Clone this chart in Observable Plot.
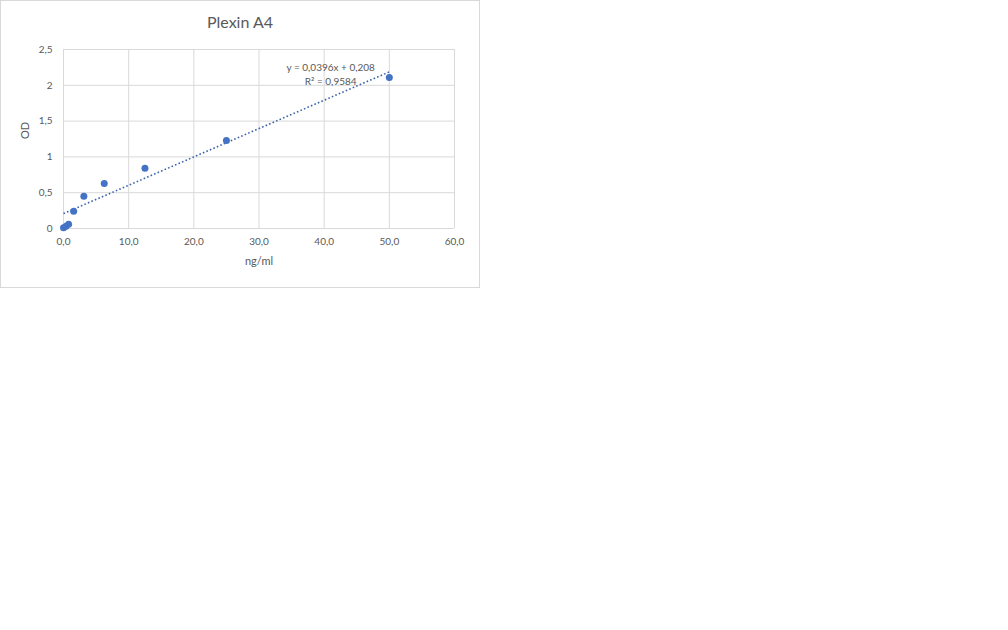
<!DOCTYPE html>
<html>
<head>
<meta charset="utf-8">
<script src="https://cdn.jsdelivr.net/npm/d3@7"></script>
<script src="https://cdn.jsdelivr.net/npm/@observablehq/plot@0.6"></script>
<style>
  html, body { margin: 0; padding: 0; background: #fff; }
  #box { position: absolute; left: 0; top: 0; width: 480px; height: 288px; box-sizing: border-box; border: 1px solid #d9d9d9; background: #fff; }
  #title { position: absolute; left: 0; top: 11px; width: 480px; text-align: center; font-family: Lato, "Open Sans", sans-serif; font-size: 16px; color: #595959; line-height: 22px; }
  #chart { position: absolute; left: 0; top: 0; }
</style>
</head>
<body>
<div id="box"></div>
<div id="title">Plexin A4</div>
<div id="chart"></div>
<script>
const concentration = [0, 0.39, 0.78, 1.5625, 3.125, 6.25, 12.5, 25, 50];
const od = [0.01, 0.03, 0.06, 0.24, 0.45, 0.63, 0.84, 1.23, 2.11];
const xTicks = [0, 10, 20, 30, 40, 50, 60];
const yTicks = [0, 0.5, 1, 1.5, 2, 2.5];
const slope = 0.0396;
const intercept = 0.208;
const trendRange = [0, 50];
const equationText = "y = 0,0396x + 0,208";
const r2Text = "R² = 0,9584";
const xLabel = "ng/ml";
const yLabel = "OD";

const points = concentration.map((c, i) => ({x: c, y: od[i]}));
const trend = trendRange.map(x => ({x, y: intercept + slope * x}));

const fmtX = d => d.toFixed(1).replace(".", ",");
const fmtY = d => String(d).replace(".", ",");
const blue = "#4472C4";
const gray = "#595959";
const gridCol = "#d9d9d9";

const chart = Plot.plot({
  width: 480,
  height: 288,
  marginLeft: 63,
  marginRight: 26,
  marginTop: 49,
  marginBottom: 60,
  style: {fontFamily: "Lato, 'Open Sans', sans-serif", fontSize: "10px", color: gray, background: "transparent", overflow: "visible"},
  x: {domain: [0, 60]},
  y: {domain: [0, 2.5]},
  marks: [
    Plot.gridX(xTicks, {stroke: gridCol, strokeOpacity: 1}),
    Plot.gridY(yTicks, {stroke: gridCol, strokeOpacity: 1}),
    Plot.axisX({ticks: xTicks, tickSize: 0, tickPadding: 9, tickFormat: fmtX, label: null, fill: gray}),
    Plot.axisY({ticks: yTicks, tickSize: 0, tickPadding: 11, tickFormat: fmtY, label: null, fill: gray}),
    Plot.line(trend, {x: "x", y: "y", stroke: "#3b64ad", strokeWidth: 1.6, strokeDasharray: "1.6 2.2", strokeLinecap: "butt"}),
    Plot.dot(points, {x: "x", y: "y", r: 3.5, fill: blue}),
    Plot.text([equationText + "\n" + r2Text], {x: 41, y: 2.165, textAnchor: "middle", fill: gray, fontSize: 10, lineHeight: 1.45}),
    Plot.text([xLabel], {frameAnchor: "bottom", dy: 36, fill: gray, fontSize: 11}),
    Plot.text([yLabel], {frameAnchor: "left", dx: -38, rotate: -90, fill: gray, fontSize: 11})
  ]
});
document.getElementById("chart").appendChild(chart);
</script>
</body>
</html>
